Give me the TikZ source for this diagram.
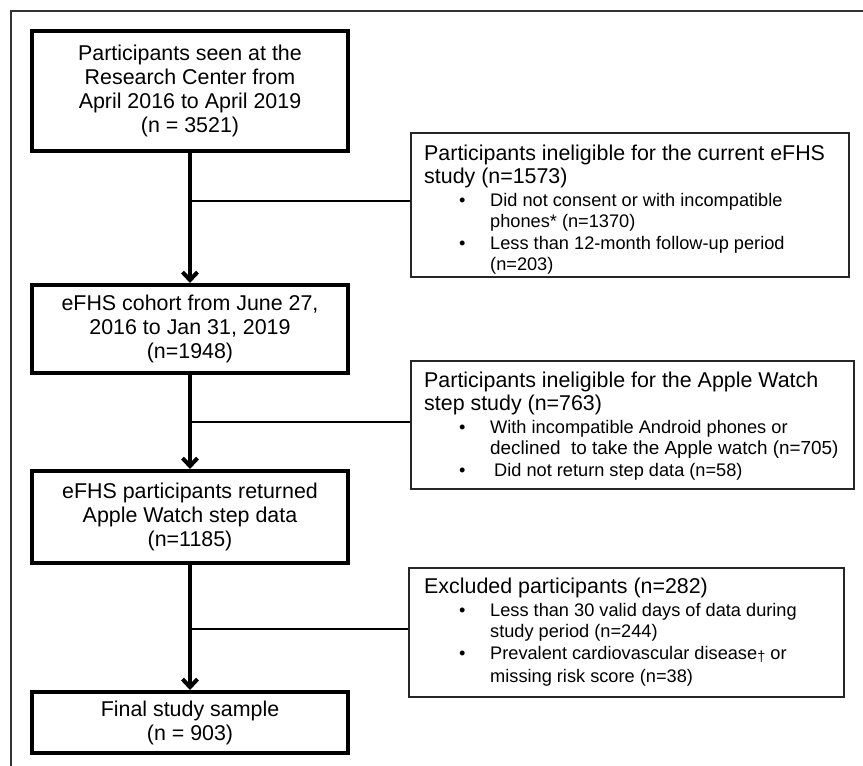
\documentclass[tikz,border=0pt]{standalone}
\usepackage{fontspec}
\setmainfont{Liberation Sans}
\usetikzlibrary{arrows.meta}
\newcommand{\hfs}{\fontsize{21.4}{22}\selectfont}
\newcommand{\bfs}{\fontsize{18.2}{21.5}\selectfont}
\newcommand{\bul}{\bfs\hspace*{35pt}\makebox[31pt][l]{\textbullet}}
\newcommand{\cont}{\bfs\hspace*{66pt}}
\newcommand{\sidepar}[1]{\parbox[t]{520pt}{\raggedright\hfs #1}}
\begin{document}
\begin{tikzpicture}[x=1pt,y=-1pt,
  mainbox/.style={draw=black, line width=4pt, minimum width=316pt, align=center,
    font=\fontsize{21.4}{24}\selectfont, inner sep=0pt},
  sidebox/.style={draw=black!85, line width=2pt, inner sep=0pt},
  sidetext/.style={anchor=base west, inner sep=0pt},
  conn/.style={line width=4pt, -{Straight Barb[length=8pt,width=15pt]}},
  branch/.style={line width=2.5pt},
  frameline/.style={draw=black!80, line width=2pt}
]
\useasboundingbox (0,0) rectangle (863,766);
\draw[frameline] (11,766) -- (11,11) -- (863,11);

% main boxes
\node[mainbox, minimum height=120pt] (b1) at (190,91)
  {Participants seen at the\\Research Center from\\April 2016 to April 2019\\(n = 3521)};
\node[mainbox, minimum height=88pt] (b2) at (190,329)
  {eFHS cohort from June 27,\\2016 to Jan 31, 2019\\(n=1948)};
\node[mainbox, minimum height=92pt] (b3) at (190,517)
  {eFHS participants returned\\Apple Watch step data\\(n=1185)};
\node[mainbox, minimum height=61pt] (b4) at (190,722.5)
  {Final study sample\\(n = 903)};

% side boxes
\node[sidebox, minimum width=438pt, minimum height=144pt] (r1) at (630,205) {};
\node[sidebox, minimum width=443pt, minimum height=128pt] (r2) at (632.5,425) {};
\node[sidebox, minimum width=435pt, minimum height=129pt] (r3) at (626.5,632.5) {};

\node[sidetext] (t1) at ([shift={(14,28)}]r1.north west)
  {\sidepar{Participants ineligible for the current eFHS\\[1.5pt]
   study (n=1573)\\[1pt]
   \bul Did not consent or with incompatible\\
   \cont phones* (n=1370)\\
   \bul Less than 12-month follow-up period\\
   \cont (n=203)}};
\node[sidetext] (t2) at ([shift={(14,27)}]r2.north west)
  {\sidepar{Participants ineligible for the Apple Watch\\[1.5pt]
   step study (n=763)\\[1pt]
   \bul With incompatible Android phones or\\
   \cont {\fontsize{18.9}{21.5}\selectfont declined\ \ to take the Apple watch (n=705)}\\
   \bul\hspace*{4pt}Did not return step data (n=58)}};
\node[sidetext] (t3) at ([shift={(16,26)}]r3.north west)
  {\sidepar{Excluded participants (n=282)\\[1.5pt]
   \bul Less than 30 valid days of data during\\
   \cont study period (n=244)\\
   \bul Prevalent cardiovascular disease{\raisebox{-2pt}{\scalebox{0.8}{†}}} or\\[1.5pt]
   \cont missing risk score (n=38)}};

% junctions
\coordinate (j1) at (190,201);
\coordinate (j2) at (190,422);
\coordinate (j3) at (190,629);

% connectors
\draw[conn] (b1) -- (b2);
\draw[conn] (b2) -- (b3);
\draw[conn] (b3) -- (b4);
\draw[branch] (j1) -- (j1 -| r1.west);
\draw[branch] (j2) -- (j2 -| r2.west);
\draw[branch] (j3) -- (j3 -| r3.west);
\end{tikzpicture}
\end{document}
